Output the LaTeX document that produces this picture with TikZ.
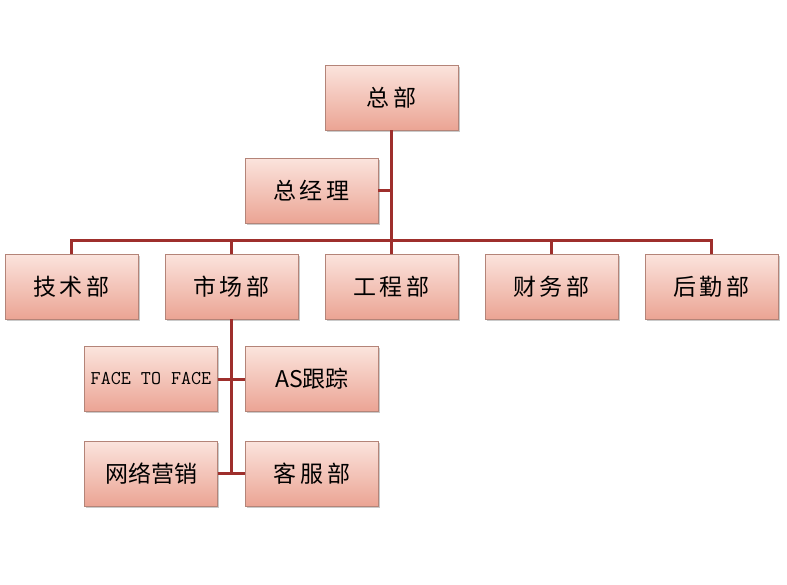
\documentclass[tikz,border=0pt]{standalone}
\usepackage{fontspec}
\newfontfamily\cjk{Noto Sans CJK SC}
\usetikzlibrary{shadows}
\definecolor{boxtop}{HTML}{FBE4DD}
\definecolor{boxbot}{HTML}{EBA494}
\definecolor{boxline}{HTML}{B48478}
\definecolor{conn}{HTML}{9E2F2C}
\begin{document}
\begin{tikzpicture}[x=1pt,y=-1pt,
  orgbox/.style={rectangle, minimum width=133pt, minimum height=65pt, inner sep=0pt,
    top color=boxtop, bottom color=boxbot, draw=boxline, line width=0.8pt,
    drop shadow={shadow xshift=1.5pt, shadow yshift=-1.5pt, fill=black!35, opacity=0.6},
    font=\cjk\fontsize{23}{26}\selectfont, text=black},
  link/.style={draw=conn, line width=3pt}]
\useasboundingbox (0,0) rectangle (787,584);
\node[orgbox] (hq) at (391.5,97.5) {总\,部};
\node[orgbox] (gm) at (311.5,190.5) {总\,经\,理};
\node[orgbox] (tech) at (71.5,286.5) {技\,术\,部};
\node[orgbox] (mkt) at (231.5,286.5) {市\,场\,部};
\node[orgbox] (eng) at (391.5,286.5) {工\,程\,部};
\node[orgbox] (fin) at (551.5,286.5) {财\,务\,部};
\node[orgbox] (log) at (711.5,286.5) {后\,勤\,部};
\node[orgbox, font=\ttfamily\fontsize{19.5}{22}\selectfont] (f2f) at (151,379) {FACE TO FACE};
\node[orgbox] (as) at (312,379) {AS跟踪};
\node[orgbox] (web) at (151,473.5) {网络营销};
\node[orgbox] (cs) at (312,473.5) {客\,服\,部};
\coordinate (bar) at (391.5,240);
\coordinate (mv) at (231.5,474);
\draw[link] (hq.south) -- (eng.north);
\draw[link] (gm.east) -- (gm.east -| hq.south);
\draw[link] (tech.north) |- (bar) -| (log.north);
\draw[link] (mkt.north) -- (mkt.north |- bar);
\draw[link] (fin.north) -- (fin.north |- bar);
\draw[link] (mkt.south) -- (mv);
\draw[link] (f2f.east) -- (as.west);
\draw[link] (web.east) -- (cs.west);
\end{tikzpicture}
\end{document}
